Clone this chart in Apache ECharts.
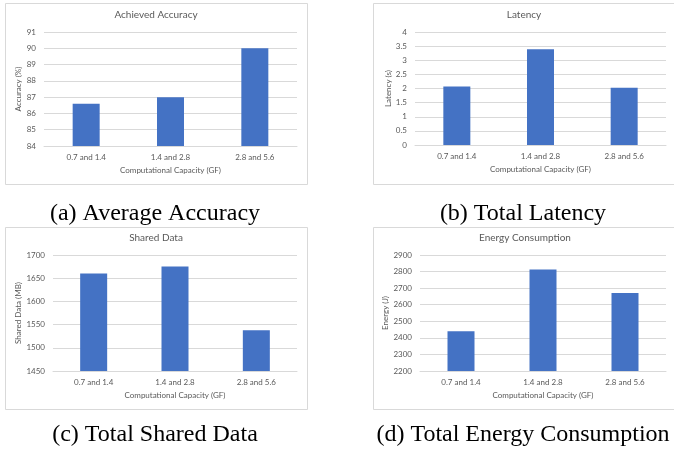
<!DOCTYPE html>
<html>
<head>
<meta charset="utf-8">
<script src="https://cdn.jsdelivr.net/npm/echarts@6/dist/echarts.min.js"></script>
<style>html,body{margin:0;padding:0;background:#fff}#c{width:674px;height:450px}</style>
</head>
<body>
<div id="c"></div>
<script>
var categories = ['0.7 and 1.4', '1.4 and 2.8', '2.8 and 5.6'];
var accuracy = [86.6, 87.0, 90.0];
var latency = [2.07, 3.39, 2.03];
var sharedData = [1660, 1675, 1538];
var energy = [2440, 2812, 2670];
var chartTitles = ['Achieved Accuracy', 'Latency', 'Shared Data', 'Energy Consumption'];
var yNames = ['Accuracy (%)', 'Latency (s)', 'Shared Data (MB)', 'Energy (J)'];
var xName = 'Computational Capacity (GF)';
var captions = ['(a) Average Accuracy', '(b) Total Latency', '(c) Total Shared Data', '(d) Total Energy Consumption'];
var yRanges = [[84, 91, 1], [0, 4, 0.5], [1450, 1700, 50], [2200, 2900, 100]];
var seriesData = [accuracy, latency, sharedData, energy];

var FONT = 'Lato';
var TXT = '#595959';
var GRID = '#D9D9D9';
var grids = [
  {left: 44, top: 32, width: 253, height: 114},
  {left: 415, top: 32, width: 251, height: 113},
  {left: 53, top: 255, width: 244, height: 116},
  {left: 420, top: 255, width: 246, height: 116}
];
var yNameGaps = [18, 21, 26, 26];
var titlePos = [[156, 10], [524, 10], [156, 233], [525, 233]];
var panels = [[5, 3, 302, 181], [373, 3, 310, 181], [5, 227, 302, 182], [373, 227, 310, 182]];
var capPos = [[155, 214], [523, 214], [155, 435], [523, 435]];

var option = {
  animation: false,
  backgroundColor: '#fff',
  title: chartTitles.map(function (t, i) {
    return {text: t, left: titlePos[i][0], top: titlePos[i][1], textAlign: 'center',
      textStyle: {fontFamily: FONT, fontSize: 10, fontWeight: 'normal', color: TXT}, padding: 0};
  }),
  grid: grids,
  xAxis: grids.map(function (g, i) {
    return {type: 'category', gridIndex: i, data: categories,
      name: xName, nameLocation: 'middle', nameGap: 20,
      nameTextStyle: {fontFamily: FONT, fontSize: 8, color: TXT},
      axisLine: {lineStyle: {color: GRID}}, axisTick: {show: false},
      axisLabel: {fontFamily: FONT, fontSize: 8, color: TXT, margin: 7}};
  }),
  yAxis: grids.map(function (g, i) {
    return {type: 'value', gridIndex: i, min: yRanges[i][0], max: yRanges[i][1], interval: yRanges[i][2],
      name: yNames[i], nameLocation: 'middle', nameGap: yNameGaps[i],
      nameTextStyle: {fontFamily: FONT, fontSize: 8, color: TXT},
      axisLine: {show: false}, axisTick: {show: false},
      splitLine: {lineStyle: {color: GRID}},
      axisLabel: {fontFamily: FONT, fontSize: 8, color: TXT, margin: 8,
        formatter: function (v) { return String(v); }}};
  }),
  series: seriesData.map(function (d, i) {
    return {type: 'bar', xAxisIndex: i, yAxisIndex: i, data: d, barWidth: 27,
      itemStyle: {color: '#4472C4'}};
  }),
  graphic: panels.map(function (p) {
    return {type: 'rect', shape: {x: p[0] + 0.5, y: p[1] + 0.5, width: p[2], height: p[3]},
      style: {fill: null, stroke: GRID, lineWidth: 1}, z: -1};
  }).concat(captions.map(function (c, i) {
    return {type: 'text', x: capPos[i][0], y: capPos[i][1],
      style: {text: c, fontFamily: 'Liberation Serif', fontSize: 24, fill: '#000',
        textAlign: 'center', textVerticalAlign: 'middle'}};
  }))
};
var chart = echarts.init(document.getElementById('c'));
chart.setOption(option);
</script>
</body>
</html>
